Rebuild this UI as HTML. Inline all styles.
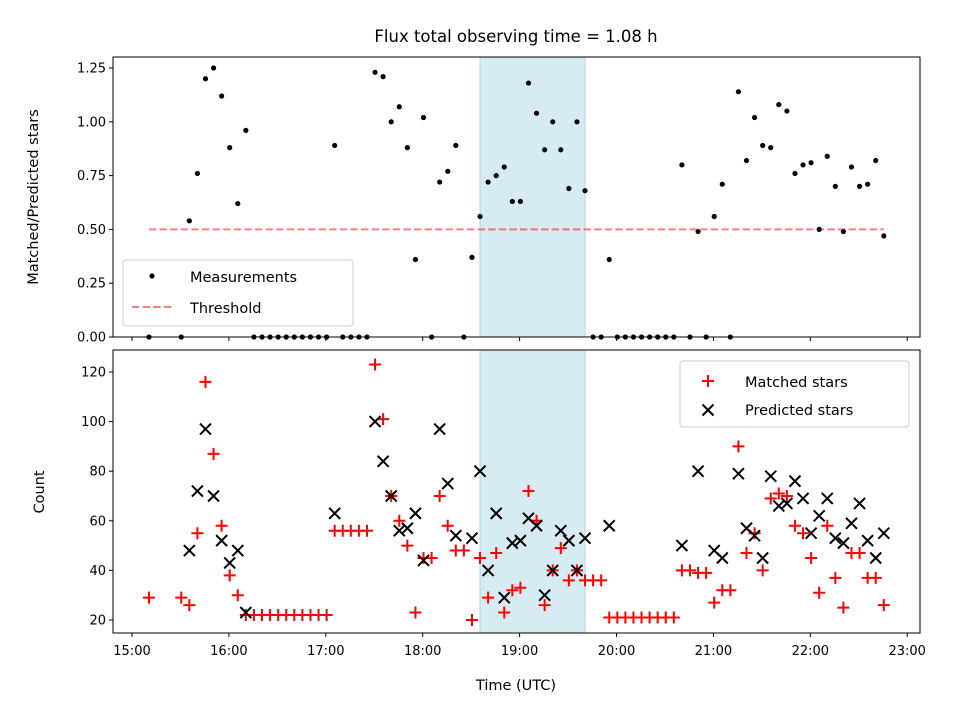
<!DOCTYPE html>
<html><head><meta charset="utf-8"><style>
body{margin:0;background:#fff;}
svg{display:block;font-family:"DejaVu Sans","Liberation Sans",sans-serif;}
</style></head><body>
<svg id="chart" width="960" height="720"></svg>
<script>
// slot indices: time (minutes after 15:00) = 5*k + 0.5
const slotStart = 2;
const ratioVals = [0,null,null,null,0,0.54,0.76,1.20,1.25,1.12,0.88,0.62,0.96,0,0,0,0,0,0,0,0,0,0,0.89,0,0,0,0,1.23,1.21,1.00,1.07,0.88,0.36,1.02,0,0.72,0.77,0.89,0,0.37,0.56,0.72,0.75,0.79,0.63,0.63,1.18,1.04,0.87,1.00,0.87,0.69,1.00,0.68,0,0,0.36,0,0,0,0,0,0,0,0,0.80,0,0.49,0,0.56,0.71,0,1.14,0.82,1.02,0.89,0.88,1.08,1.05,0.76,0.80,0.81,0.50,0.84,0.70,0.49,0.79,0.70,0.71,0.82,0.47];
const matchedVals = [29,null,null,null,29,26,55,116,87,58,38,30,22,22,22,22,22,22,22,22,22,22,22,56,56,56,56,56,123,101,70,60,50,23,45,45,70,58,48,48,20,45,29,47,23,32,33,72,60,26,40,49,36,40,36,36,36,21,21,21,21,21,21,21,21,21,40,40,39,39,27,32,32,90,47,55,40,69,71,70,58,55,45,31,58,37,25,47,47,37,37,26];
const predictedVals = [null,null,null,null,null,48,72,97,70,52,43,48,23,null,null,null,null,null,null,null,null,null,null,63,null,null,null,null,100,84,70,56,57,63,44,null,97,75,54,null,53,80,40,63,29,51,52,61,58,30,40,56,52,40,53,null,null,58,null,null,null,null,null,null,null,null,50,null,80,null,48,45,null,79,57,54,45,78,66,67,76,69,55,62,69,53,51,59,67,52,45,55];
const xTickLabels = ["15:00","16:00","17:00","18:00","19:00","20:00","21:00","22:00","23:00"];
const topTicks = ["0.00","0.25","0.50","0.75","1.00","1.25"];
const bottomTicks = [20,40,60,80,100,120];
const threshold = 0.5;
const shadeStart = 18 + 35.5/60, shadeEnd = 19 + 40.5/60;
const threshStart = 15 + 10.5/60, threshEnd = 15 + 465.5/60;

const NS="http://www.w3.org/2000/svg";
const svg=document.getElementById('chart');
function el(tag,attrs,parent){const e=document.createElementNS(NS,tag);for(const k in attrs)e.setAttribute(k,attrs[k]);(parent||svg).appendChild(e);return e;}
const L=113,R=920;
const xs=h=>132+(h-15)*96.9;
const yTop=v=>337-v*215.2;
const yBot=v=>620-(v-20)*2.48;
const tOf=i=>15+(5*(i+slotStart)+0.5)/60;

let t=el('text',{x:516,y:42,'text-anchor':'middle','font-size':16.5});t.textContent='Flux total observing time = 1.08 h';



function panel(y0,y1,name){
  const g=el('g',{});
  
  
  const sh=el('rect',{x:xs(shadeStart),y:y0,width:xs(shadeEnd)-xs(shadeStart),height:y1-y0,fill:'#add8e6','fill-opacity':0.5,stroke:'#add8e6','stroke-width':1},g);
  
  
  xTickLabels.forEach((lab,i)=>{const x=xs(15+i);el('line',{x1:x,x2:x,y1:y1,y2:y1+4,stroke:'#000','stroke-width':1},g);});
  return g;
}
// top panel
const gt=panel(57,337,'ratio-panel');
const thr=el('line',{x1:xs(threshStart),x2:xs(threshEnd),y1:yTop(threshold),y2:yTop(threshold),stroke:'#ff0000','stroke-opacity':0.5,'stroke-width':2,'stroke-dasharray':'7.4,3.2'},gt);


topTicks.forEach(s=>{const y=yTop(parseFloat(s));el('line',{x1:L-4,x2:L,y1:y,y2:y,stroke:'#000'},gt);const tx=el('text',{x:L-7,y:y+4.5,'text-anchor':'end','font-size':13},gt);tx.textContent=s;

});
ratioVals.forEach((v,i)=>{if(v===null)return;const c=el('circle',{cx:xs(tOf(i)),cy:yTop(v),r:2.6,fill:'#000'},gt);

});
el('rect',{x:L,y:57,width:R-L,height:280,fill:'none',stroke:'#000','stroke-width':1},gt);
let yl=el('text',{transform:'translate(38,197) rotate(-90)','text-anchor':'middle','font-size':14.5},gt);yl.textContent='Matched/Predicted stars';


// top legend
const lg=el('g',{});


el('rect',{x:123,y:260,width:230,height:66,rx:3,fill:'#fff','fill-opacity':0.8,stroke:'#ccc'},lg);
el('circle',{cx:152,cy:276,r:2.6,fill:'#000'},lg);
let l1=el('text',{x:190,y:282,'font-size':14.5},lg);l1.textContent='Measurements';
el('line',{x1:132,x2:172,y1:307,y2:307,stroke:'#ff0000','stroke-opacity':0.5,'stroke-width':2,'stroke-dasharray':'7.4,3.2'},lg);
let l2=el('text',{x:190,y:313,'font-size':14.5},lg);l2.textContent='Threshold';

// bottom panel
const gb=panel(350,633,'count-panel');
bottomTicks.forEach(v=>{const y=yBot(v);el('line',{x1:L-4,x2:L,y1:y,y2:y,stroke:'#000'},gb);const tx=el('text',{x:L-7,y:y+4.5,'text-anchor':'end','font-size':13},gb);tx.textContent=v;

});
xTickLabels.forEach((lab,i)=>{const tx=el('text',{x:xs(15+i),y:655,'text-anchor':'middle','font-size':13},gb);tx.textContent=lab;

});
function plus(x,y,g){const p=el('path',{d:`M${x-6} ${y}H${x+6}M${x} ${y-6}V${y+6}`,stroke:'#ff0000','stroke-width':2},g);return p;}
function cross(x,y,g){const p=el('path',{d:`M${x-5.5} ${y-5.5}L${x+5.5} ${y+5.5}M${x-5.5} ${y+5.5}L${x+5.5} ${y-5.5}`,stroke:'#000','stroke-width':2},g);return p;}
matchedVals.forEach((v,i)=>{if(v===null)return;const p=plus(xs(tOf(i)),yBot(v),gb);

});
predictedVals.forEach((v,i)=>{if(v===null)return;const p=cross(xs(tOf(i)),yBot(v),gb);

});
el('rect',{x:L,y:350,width:R-L,height:283,fill:'none',stroke:'#000','stroke-width':1},gb);
let yl2=el('text',{transform:'translate(44,492) rotate(-90)','text-anchor':'middle','font-size':14.5},gb);yl2.textContent='Count';


let xl=el('text',{x:516,y:690,'text-anchor':'middle','font-size':14.5},gb);xl.textContent='Time (UTC)';


// bottom legend
const lg2=el('g',{});


el('rect',{x:680,y:361,width:229,height:66,rx:3,fill:'#fff','fill-opacity':0.8,stroke:'#ccc'},lg2);
plus(708,381,lg2);
let l3=el('text',{x:745,y:387,'font-size':14.5},lg2);l3.textContent='Matched stars';
cross(708,410,lg2);
let l4=el('text',{x:745,y:415,'font-size':14.5},lg2);l4.textContent='Predicted stars';
</script>
</body></html>
